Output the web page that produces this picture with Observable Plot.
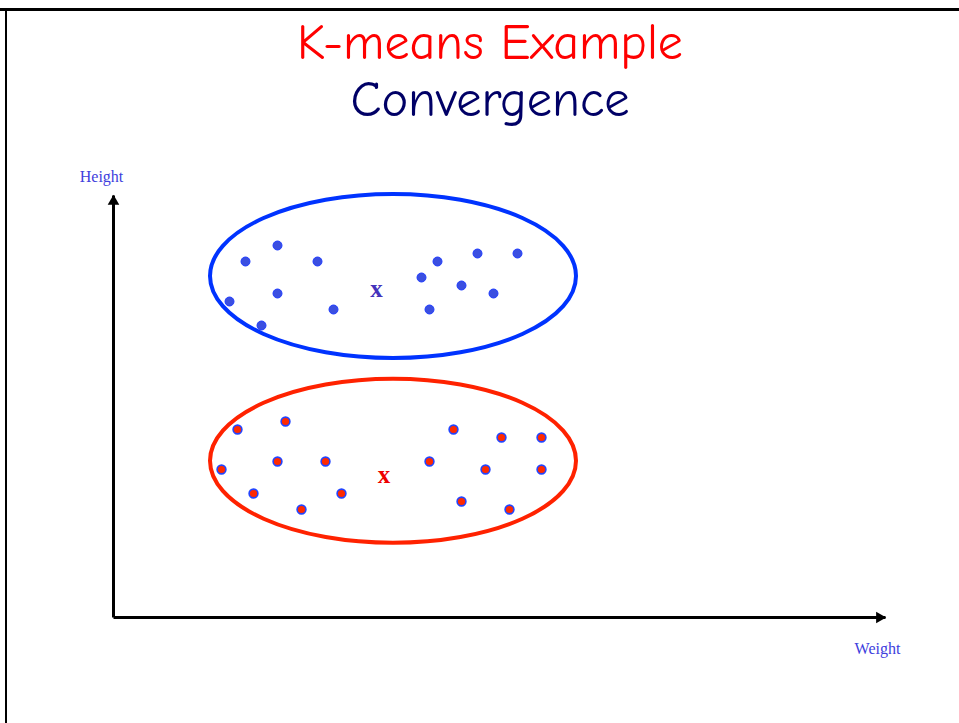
<!DOCTYPE html>
<html>
<head>
<meta charset="utf-8">
<script src="https://cdn.jsdelivr.net/npm/d3@7"></script>
<script src="https://cdn.jsdelivr.net/npm/@observablehq/plot@0.6"></script>
<style>
  html, body { margin: 0; padding: 0; background: #fff; }
  #page { position: relative; width: 959px; height: 723px; overflow: hidden; background: #fff; }
  #topRule { position: absolute; left: 0; top: 8px; width: 959px; height: 3px; background: #000; }
  #leftRule { position: absolute; left: 5px; top: 8px; width: 2px; height: 715px; background: #000; }
  #titles { position: absolute; left: 0; top: 0; width: 980px; height: 150px; text-align: center;
            font-family: "Comic Sans MS", "Comic Neue", Lato, sans-serif; }
  #title { position: absolute; left: 0; width: 980px; top: 13px; font-size: 50px; line-height: 60px; color: #ff0000; }
  #subtitle { position: absolute; left: 0; width: 980px; top: 70px; font-size: 50.5px; line-height: 60px; color: #000066; }
  #chart { position: absolute; left: 0; top: 150px; }
</style>
</head>
<body>
<div id="page">
  <div id="topRule"></div>
  <div id="leftRule"></div>
  <div id="titles">
    <div id="title">K-means Example</div>
    <div id="subtitle">Convergence</div>
  </div>
  <div id="chart"></div>
</div>
<script>
// ---- data (weight, height in arbitrary units) ----
const blueX = [33, 41, 51, 29, 41, 37, 55, 77, 81, 91, 101, 87, 95, 79];
const blueY = [89, 93, 89, 79, 81, 73, 77, 85, 89, 91, 91, 83, 81, 77];
const redX = [31, 43, 27, 41, 53, 35, 57, 47, 85, 97, 107, 79, 93, 107, 87, 99];
const redY = [47, 49, 37, 39, 39, 31, 31, 27, 47, 45, 45, 39, 37, 37, 29, 27];
const clusterNames = ["blue", "red"];
const centroidX = [65.75, 67.6];
const centroidY = [81.6, 35.25];
const ellipseCx = [70, 70];
const ellipseCy = [85.25, 39.06];
const ellipseRx = [45.75, 45.75];
const ellipseRy = [20.5, 20.5];
const axisMaxX = 193;
const axisMaxY = 105.5;
const axisTitles = ["Height", "Weight"];

// ---- build tables ----
const bluePts = blueX.map((x, i) => ({x, y: blueY[i]}));
const redPts = redX.map((x, i) => ({x, y: redY[i]}));
const centroids = clusterNames.map((c, i) => ({cluster: c, x: centroidX[i], y: centroidY[i]}));
const ellipses = clusterNames.map((c, i) => ({cluster: c, cx: ellipseCx[i], cy: ellipseCy[i], rx: ellipseRx[i], ry: ellipseRy[i]}));
const ellipseStroke = {blue: "#0033ff", red: "#ff2200"};
const centroidColor = {blue: "#4433bb", red: "#ee0000"};

const ellipseMark = (index, scales) => {
  const g = d3.create("svg:g");
  for (const e of ellipses) {
    const cx = scales.x(e.cx), cy = scales.y(e.cy);
    g.append("ellipse")
      .attr("cx", cx).attr("cy", cy)
      .attr("rx", Math.abs(scales.x(e.cx + e.rx) - cx))
      .attr("ry", Math.abs(scales.y(e.cy + e.ry) - cy))
      .attr("fill", "none")
      .attr("stroke", ellipseStroke[e.cluster])
      .attr("stroke-width", 4);
  }
  return g.node();
};

const chart = Plot.plot({
  width: 959,
  height: 573,
  x: {type: "linear", domain: [0, 100], range: [113, 513]},
  y: {type: "linear", domain: [0, 100], range: [467, 67]},
  axis: null,
  style: {background: "transparent", overflow: "visible"},
  marks: [
    ellipseMark,
    // axes
    Plot.link([{x1: 0, y1: 0, x2: axisMaxX, y2: 0}], {x1: "x1", y1: "y1", x2: "x2", y2: "y2", stroke: "#000", strokeWidth: 3}),
    Plot.link([{x1: 0, y1: 0, x2: 0, y2: axisMaxY}], {x1: "x1", y1: "y1", x2: "x2", y2: "y2", stroke: "#000", strokeWidth: 3}),
    Plot.dot([{x: axisMaxX, y: 0}], {x: "x", y: "y", symbol: "triangle", r: 4.3, rotate: 90, dx: -6, fill: "#000", stroke: "none"}),
    Plot.dot([{x: 0, y: axisMaxY}], {x: "x", y: "y", symbol: "triangle", r: 4.3, dy: 6, fill: "#000", stroke: "none"}),
    Plot.text([axisTitles[0]], {x: 0, y: axisMaxY, text: d => d, dx: -12, dy: -14, fontFamily: "Liberation Serif", fontSize: 16, fill: "#4040dd", lineAnchor: "bottom"}),
    Plot.text([axisTitles[1]], {x: axisMaxX, y: 0, text: d => d, dx: -8, dy: 36, fontFamily: "Liberation Serif", fontSize: 16, fill: "#4040dd", lineAnchor: "bottom"}),
    // points
    Plot.dot(bluePts, {x: "x", y: "y", r: 4.5, fill: "#3b4fe0", stroke: "#1f3cff", strokeWidth: 1}),
    Plot.dot(redPts, {x: "x", y: "y", r: 4.4, fill: "#ff2a00", stroke: "#2244ff", strokeWidth: 1.6}),
    // centroids
    Plot.text(centroids, {x: "x", y: "y", text: () => "x", dy: -2, fontFamily: "Liberation Serif", fontWeight: "bold", fontSize: 25,
      fill: d => centroidColor[d.cluster]})
  ]
});
document.getElementById("chart").appendChild(chart);
</script>
</body>
</html>
